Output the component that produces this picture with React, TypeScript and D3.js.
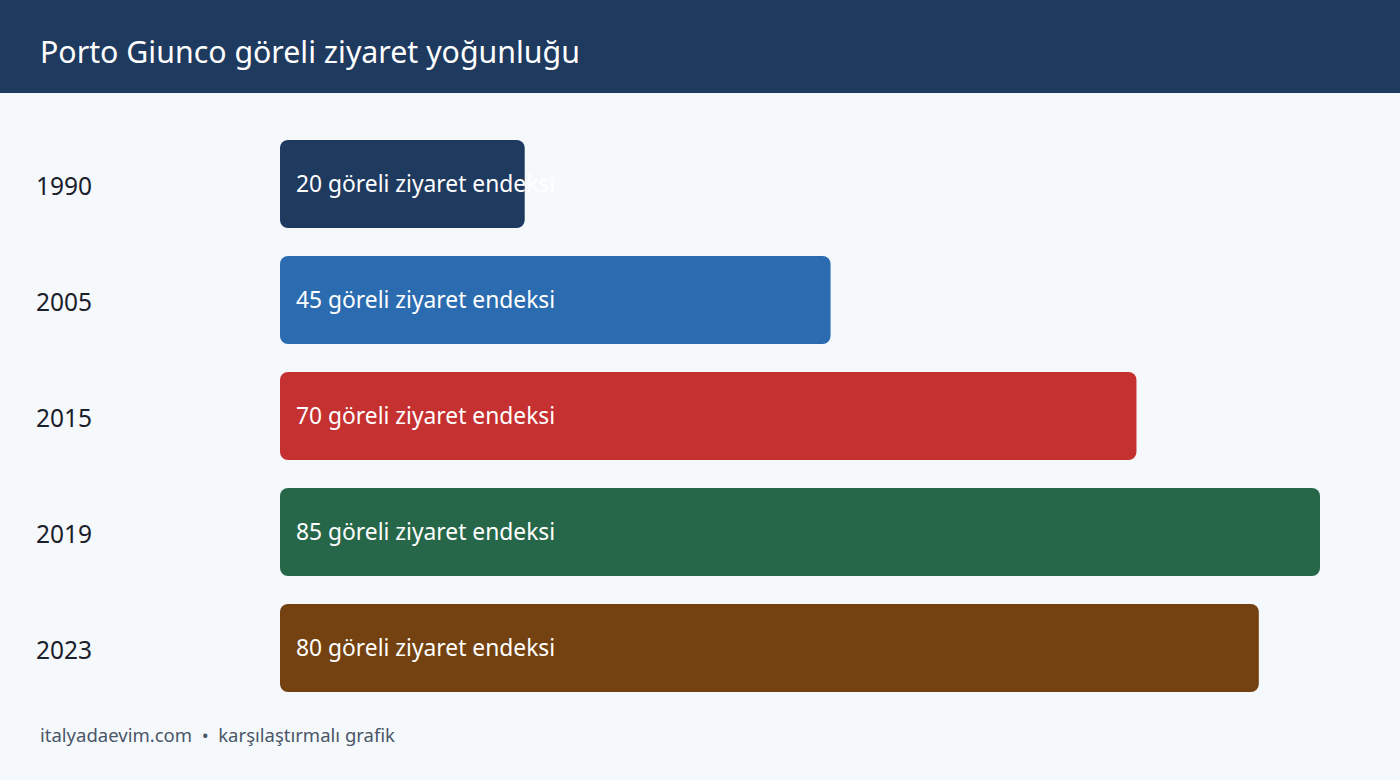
import React, { useRef, useEffect } from 'react';
import * as d3 from 'd3';

const years = ['1990', '2005', '2015', '2019', '2023'];
const values = [20, 45, 70, 85, 80];
const colors = ['#1f3a5f', '#2b6cb0', '#c53030', '#276749', '#744210'];
const unit = 'göreli ziyaret endeksi';
const title = 'Porto Giunco göreli ziyaret yoğunluğu';
const footer = 'italyadaevim.com  •  karşılaştırmalı grafik';

const W = 1400;
const H = 780;
const FONT = '"Noto Sans", "Open Sans", sans-serif';

const App = () => {
  const ref = useRef(null);

  useEffect(() => {
    document.body.style.margin = '0';
    const svg = d3.select(ref.current);
    svg.selectAll('*').remove();

    // background + header
    svg.append('rect').attr('width', W).attr('height', H).attr('fill', '#f5f9fc');
    svg.append('rect').attr('width', W).attr('height', 93).attr('fill', '#1f3a5f');
    svg.append('text')
      .attr('x', 40).attr('y', 63)
      .attr('fill', '#ffffff')
      .style('font-family', FONT)
      .style('font-size', '30.3px')
      .text(title);

    const x = d3.scaleLinear().domain([0, d3.max(values)]).range([280, 1320]);
    const y = d3.scaleBand().domain(years).range([126, 706]).paddingInner(0.2414).paddingOuter(0.1207);

    const rows = svg.selectAll('g.row')
      .data(years.map((yr, i) => ({ yr, v: values[i], c: colors[i] })))
      .enter()
      .append('g')
      .attr('class', 'row');

    // year labels
    rows.append('text')
      .attr('x', 36)
      .attr('y', d => y(d.yr) + y.bandwidth() / 2 + 2)
      .attr('dy', '0.35em')
      .attr('fill', '#1a202c')
      .style('font-family', FONT)
      .style('font-size', '24.5px')
      .text(d => d.yr);

    rows.append('rect')
      .attr('x', x(0))
      .attr('y', d => y(d.yr))
      .attr('width', d => x(d.v) - x(0))
      .attr('height', y.bandwidth())
      .attr('rx', 8)
      .attr('fill', d => d.c);

    // value labels inside bars
    rows.append('text')
      .attr('x', x(0) + 16)
      .attr('y', d => y(d.yr) + y.bandwidth() / 2)
      .attr('dy', '0.35em')
      .attr('fill', '#ffffff')
      .style('font-family', FONT)
      .style('font-size', '22.8px')
      .text(d => `${d.v} ${unit}`);

    svg.append('text')
      .attr('x', 40).attr('y', 742)
      .attr('fill', '#4a5568')
      .attr('xml:space', 'preserve')
      .style('white-space', 'pre')
      .style('font-family', FONT)
      .style('font-size', '18.5px')
      .text(footer);
  }, []);

  return <svg ref={ref} width={W} height={H} style={{ display: 'block' }} />;
};

export default App;
